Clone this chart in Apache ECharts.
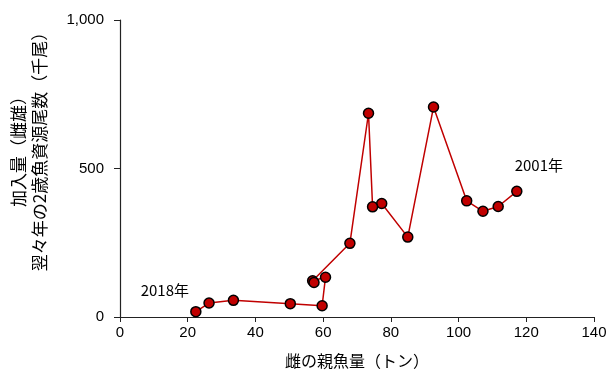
<!DOCTYPE html>
<html>
<head>
<meta charset="utf-8">
<script src="https://cdn.jsdelivr.net/npm/echarts@6/dist/echarts.min.js"></script>
<style>
  html, body { margin: 0; padding: 0; background: #fff; }
  #chart { width: 613px; height: 382px; }
</style>
</head>
<body>
<div id="chart"></div>
<script>
// Spawning stock of females (tonnes) and recruitment two years later (thousand fish), 2001–2018
const years = [2001, 2002, 2003, 2004, 2005, 2006, 2007, 2008, 2009,
               2010, 2011, 2012, 2013, 2014, 2015, 2016, 2017, 2018];
const spawnerTonnes = [117.2, 111.7, 107.2, 102.4, 92.6, 85.0, 77.3, 74.6, 73.4,
                       67.9, 56.9, 57.3, 60.7, 59.7, 50.3, 33.5, 26.3, 22.4];
const recruitThousand = [423, 372, 356, 391, 707, 269, 382, 371, 686,
                         248, 122, 116, 134, 38, 45, 56, 47, 18];
const xTicks = [0, 20, 40, 60, 80, 100, 120, 140];
const yTicks = [0, 500, 1000];

const red = '#c00000';
const labelFont = '"Noto Sans CJK JP", "Liberation Sans", sans-serif';
const numberFont = '"Liberation Sans", Arial, sans-serif';

// Year labels shown next to the first and last points
const yearLabels = {
  2001: { position: 'top', offset: [22, -8] },
  2018: { position: 'top', offset: [-31, -3] }
};

const points = years.map((yr, i) => {
  const item = { value: [spawnerTonnes[i], recruitThousand[i]] };
  if (yearLabels[yr]) {
    item.label = {
      show: true,
      formatter: yr + '年',
      color: '#000',
      fontSize: 15,
      fontFamily: labelFont,
      position: yearLabels[yr].position,
      offset: yearLabels[yr].offset
    };
  }
  return item;
});

const chart = echarts.init(document.getElementById('chart'), null, { renderer: 'canvas' });
chart.setOption({
  animation: false,
  grid: { left: 118, right: 19, top: 20, bottom: 65 },
  xAxis: {
    type: 'value',
    min: xTicks[0],
    max: xTicks[xTicks.length - 1],
    interval: 20,
    name: '雌の親魚量（トン）',
    nameLocation: 'middle',
    nameGap: 36,
    nameTextStyle: { fontSize: 16, color: '#000', fontFamily: labelFont },
    axisLine: { show: true, lineStyle: { color: '#222', width: 1.2 } },
    axisTick: { show: true, length: 5, lineStyle: { color: '#222' } },
    axisLabel: { fontSize: 15, color: '#000', margin: 8, fontFamily: numberFont },
    splitLine: { show: false }
  },
  yAxis: {
    type: 'value',
    min: yTicks[0],
    max: yTicks[yTicks.length - 1],
    interval: 500,
    name: '加入量（雌雄）\n翌々年の2歳魚資源尾数（千尾）',
    nameLocation: 'middle',
    nameRotate: 90,
    nameGap: 70,
    nameTextStyle: {
      fontSize: 17, color: '#000', fontFamily: labelFont, lineHeight: 21,
      padding: [0, 0, 0, 42]
    },
    axisLine: { show: true, lineStyle: { color: '#222', width: 1.2 } },
    axisTick: { show: true, length: 6, lineStyle: { color: '#222' } },
    axisLabel: {
      fontSize: 15, color: '#000', margin: 16, fontFamily: numberFont,
      formatter: v => v.toLocaleString('en-US')
    },
    splitLine: { show: false }
  },
  series: [{
    type: 'line',
    data: points,
    symbol: 'circle',
    symbolSize: 10,
    lineStyle: { color: red, width: 1.5 },
    itemStyle: { color: red, borderColor: '#000', borderWidth: 1.5 },
    z: 3
  }]
});
</script>
</body>
</html>
